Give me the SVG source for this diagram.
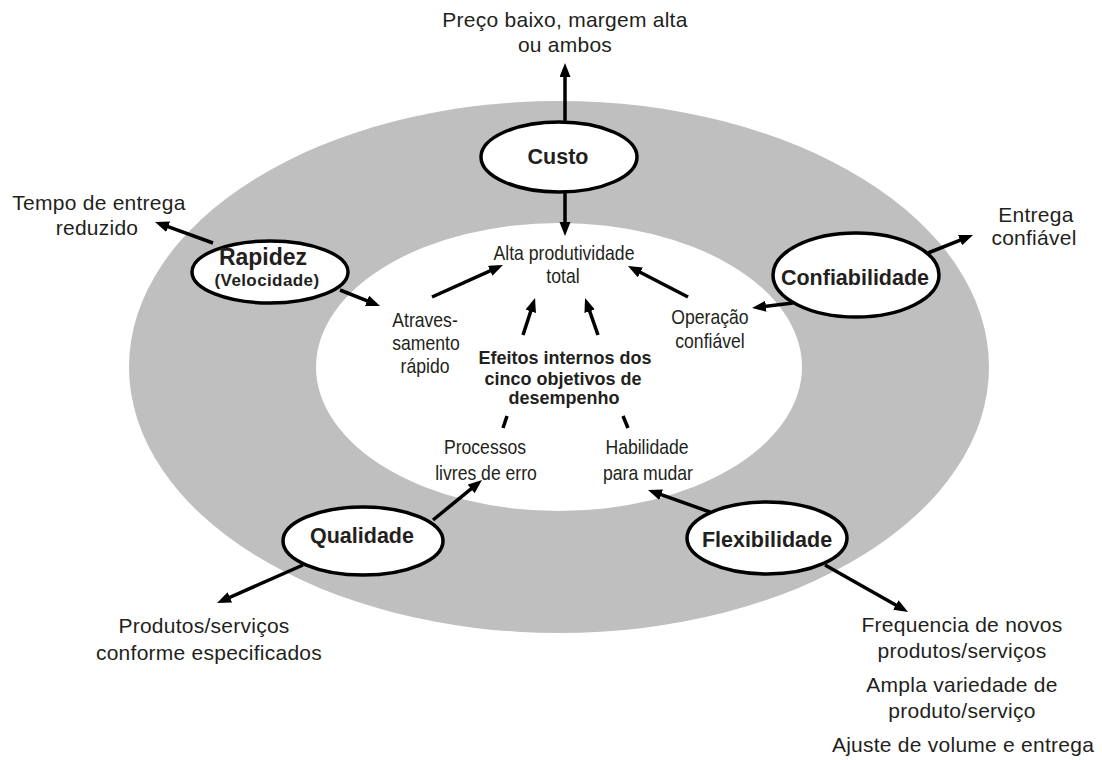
<svg xmlns="http://www.w3.org/2000/svg" width="1102" height="760" viewBox="0 0 1102 760">
<defs>
<marker id="ah" markerUnits="userSpaceOnUse" markerWidth="16" markerHeight="12" refX="9" refY="5.5" orient="auto">
<path d="M0,0 L14,5.5 L0,11 z" fill="#000"/>
</marker>
<style>
.lbl{font-family:"Liberation Sans",Arial,sans-serif;font-size:21px;letter-spacing:0.25px;fill:#231f20;text-anchor:middle}
.inn{font-family:"Liberation Sans",Arial,sans-serif;font-size:20px;fill:#231f20;text-anchor:middle}
.nd{fill:#fff;stroke:#000;stroke-width:3.5}
.ndt{font-family:"Liberation Sans",Arial,sans-serif;font-size:21.5px;font-weight:bold;fill:#231f20;text-anchor:middle}
.ctr{font-family:"Liberation Sans",Arial,sans-serif;font-size:18px;font-weight:bold;fill:#231f20;text-anchor:middle}
.cn{stroke:#000;stroke-width:3.5;fill:none}
.ar{marker-end:url(#ah)}
</style>
</defs>
<rect width="1102" height="760" fill="#fff"/>
<g id="ring">
<ellipse cx="559" cy="367" rx="430" ry="266" fill="#bfbfbf"/>
<ellipse cx="559" cy="367" rx="243" ry="144" fill="#fff"/>
</g>
<g id="connectors">
<line class="cn ar" x1="565" y1="122" x2="565" y2="68"/>
<line class="cn ar" x1="565" y1="192" x2="565" y2="231"/>
<line class="cn ar" x1="213" y1="243" x2="159.7" y2="223.7"/>
<line class="cn ar" x1="340" y1="290" x2="375.4" y2="304.1"/>
<line class="cn ar" x1="432" y1="297" x2="498.4" y2="267.1"/>
<line class="cn ar" x1="688" y1="297" x2="632.4" y2="268.3"/>
<line class="cn ar" x1="793" y1="303" x2="757" y2="307.4"/>
<line class="cn ar" x1="928" y1="253" x2="968.4" y2="236.9"/>
<line class="cn ar" x1="523" y1="335" x2="533.5" y2="302.8"/>
<line class="cn ar" x1="598" y1="335" x2="586.7" y2="302.7"/>
<line class="cn" x1="503" y1="428" x2="507" y2="416"/>
<line class="cn" x1="628" y1="428" x2="623" y2="416"/>
<line class="cn ar" x1="433" y1="520" x2="478.1" y2="483.2"/>
<line class="cn ar" x1="303" y1="565" x2="221.6" y2="601"/>
<line class="cn ar" x1="710" y1="512" x2="652.7" y2="491.7"/>
<line class="cn ar" x1="825" y1="565" x2="903.7" y2="609.5"/>
</g>
<g id="custo">
<ellipse class="nd" cx="559" cy="157" rx="78" ry="35"/>
<text class="ndt" x="558" y="164">Custo</text>
</g>
<g id="rapidez">
<ellipse class="nd" cx="270" cy="272" rx="78" ry="31"/>
<text class="ndt" x="263" y="265" style="font-size:23px">Rapidez</text>
<text class="ndt" x="267" y="286" style="font-size:17px;letter-spacing:0.4px">(Velocidade)</text>
</g>
<g id="confiabilidade">
<ellipse class="nd" cx="856" cy="275" rx="83" ry="42"/>
<text class="ndt" x="855" y="285">Confiabilidade</text>
</g>
<g id="qualidade">
<ellipse class="nd" cx="363" cy="541" rx="80" ry="34"/>
<text class="ndt" x="362" y="543">Qualidade</text>
</g>
<g id="flexibilidade">
<ellipse class="nd" cx="767" cy="538" rx="80" ry="36"/>
<text class="ndt" x="767" y="547">Flexibilidade</text>
</g>
<g id="outer-labels">
<text class="lbl" x="565" y="27">Preço baixo, margem alta</text>
<text class="lbl" x="565" y="52">ou ambos</text>
<text class="lbl" x="99" y="210">Tempo de entrega</text>
<text class="lbl" x="97" y="235">reduzido</text>
<text class="lbl" x="1036" y="222">Entrega</text>
<text class="lbl" x="1034" y="245">confiável</text>
<text class="lbl" x="204" y="633">Produtos/serviços</text>
<text class="lbl" x="209" y="660">conforme especificados</text>
<text class="lbl" x="962" y="632">Frequencia de novos</text>
<text class="lbl" x="962" y="658">produtos/serviços</text>
<text class="lbl" x="962" y="692">Ampla variedade de</text>
<text class="lbl" x="962" y="718">produto/serviço</text>
<text class="lbl" x="963" y="752">Ajuste de volume e entrega</text>
</g>
<g id="inner-labels">
<text class="inn" transform="translate(564,260) scale(0.88,1)">Alta produtividade</text>
<text class="inn" transform="translate(563,283) scale(0.88,1)">total</text>
<text class="inn" transform="translate(425,327) scale(0.88,1)">Atraves-</text>
<text class="inn" transform="translate(426,350) scale(0.88,1)">samento</text>
<text class="inn" transform="translate(425,373) scale(0.88,1)">rápido</text>
<text class="inn" transform="translate(710,324) scale(0.88,1)">Operação</text>
<text class="inn" transform="translate(710,348) scale(0.88,1)">confiável</text>
<text class="inn" transform="translate(485,454) scale(0.88,1)">Processos</text>
<text class="inn" transform="translate(486,480) scale(0.88,1)">livres de erro</text>
<text class="inn" transform="translate(647,454) scale(0.88,1)">Habilidade</text>
<text class="inn" transform="translate(648,480) scale(0.88,1)">para mudar</text>
</g>
<g id="center">
<text class="ctr" x="565" y="364">Efeitos internos dos</text>
<text class="ctr" x="563" y="385">cinco objetivos de</text>
<text class="ctr" x="564" y="404">desempenho</text>
</g>
</svg>
